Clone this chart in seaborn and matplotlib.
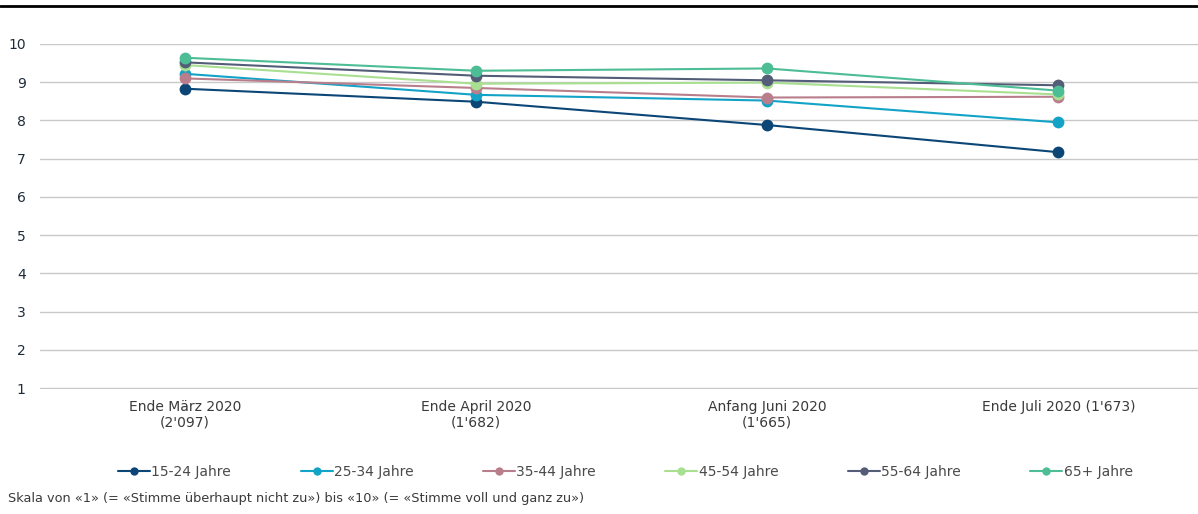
import matplotlib
matplotlib.use("Agg")
import matplotlib.pyplot as plt
import seaborn as sns
import pandas as pd
from matplotlib.lines import Line2D

categories = ["Ende März 2020\n(2'097)", "Ende April 2020\n(1'682)",
              "Anfang Juni 2020\n(1'665)", "Ende Juli 2020 (1'673)"]
groups = ["15-24 Jahre", "25-34 Jahre", "35-44 Jahre", "45-54 Jahre", "55-64 Jahre", "65+ Jahre"]
v_15_24 = [8.83, 8.49, 7.88, 7.17]
v_25_34 = [9.22, 8.67, 8.52, 7.95]
v_35_44 = [9.10, 8.85, 8.60, 8.62]
v_45_54 = [9.45, 8.96, 8.99, 8.68]
v_55_64 = [9.52, 9.17, 9.05, 8.92]
v_65 = [9.64, 9.30, 9.36, 8.78]
series = [v_15_24, v_25_34, v_35_44, v_45_54, v_55_64, v_65]
colors = ["#0c4677", "#12a3c7", "#b97e8b", "#a9df91", "#545d78", "#4cbd94"]
yticks = list(range(1, 11))
footnote = "Skala von «1» (= «Stimme überhaupt nicht zu») bis «10» (= «Stimme voll und ganz zu»)"

rows = []
for g, vals in zip(groups, series):
    for i, v in enumerate(vals):
        rows.append({"x": i, "value": v, "group": g})
df = pd.DataFrame(rows)

sns.set_theme(style="white")
plt.rcParams["font.family"] = ["DejaVu Sans"]

fig = plt.figure(figsize=(11.98, 5.14), dpi=100)
ax = fig.add_axes([0.033, 0.2428, 0.967, 0.6716])

sns.lineplot(data=df, x="x", y="value", hue="group", hue_order=groups,
             palette=colors, marker="o", markersize=8.5, markeredgewidth=0,
             linewidth=1.5, ax=ax, legend=False)
for ln in ax.lines:
    ln.set_clip_on(False)

ax.set_xlim(-0.5, 3.48)
ax.set_ylim(0.97, 10)
ax.set_yticks(yticks)
ax.set_yticklabels([str(t) for t in yticks], fontsize=10, color="#1d2b3a")
ax.set_xticks(range(len(categories)))
ax.set_xticklabels(categories, fontsize=10, color="#3a3a3a", linespacing=1.1)
ax.set_xlabel("")
ax.set_ylabel("")
ax.grid(axis="y", color="#c8c8c8", linewidth=1)
ax.set_axisbelow(True)
for s in ax.spines.values():
    s.set_visible(False)
ax.tick_params(axis="both", length=0)
ax.tick_params(axis="y", pad=10)
ax.tick_params(axis="x", pad=8)

handles = [Line2D([0], [0], color=c, lw=1.5, marker="o", markersize=6, markeredgewidth=0)
           for c in colors]
fig.legend(handles, groups, loc="center", bbox_to_anchor=(0.522, 0.082), ncol=6,
           frameon=False, fontsize=10, handlelength=2.3, handletextpad=0.1,
           columnspacing=5.0, labelcolor="#4a4a4a")

fig.text(0.007, 0.017, footnote, fontsize=9.3, color="#3a3a3a", ha="left", va="bottom")
fig.add_artist(Line2D([0, 1], [0.988, 0.988], color="black", lw=2, transform=fig.transFigure))

fig.savefig("out.png", dpi=100)
